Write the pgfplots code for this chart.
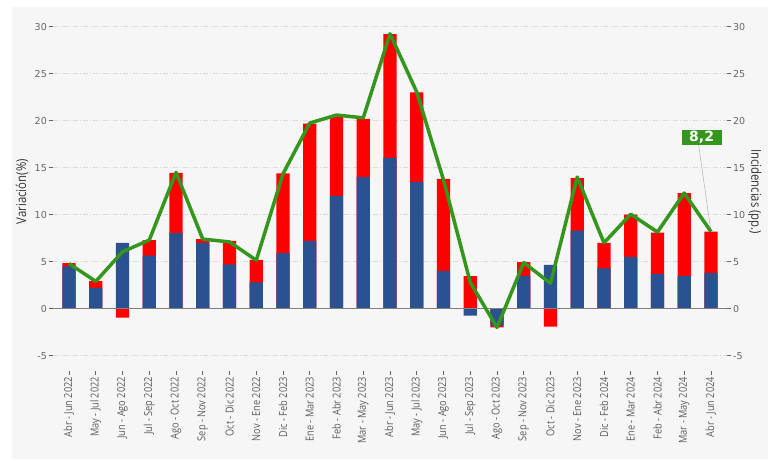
\documentclass[border=0pt]{standalone}
\usepackage{pgfplots}
\usepackage{pgfplotstable}
\pgfplotsset{compat=1.18}
\usepackage{fontspec}
\setmainfont{DejaVu Sans}
\newfontfamily\condfont[FakeStretch=0.84]{Open Sans}
\definecolor{bgpanel}{HTML}{F6F6F6}
\definecolor{barblue}{HTML}{2A5190}
\definecolor{barred}{HTML}{FF0000}
\definecolor{lgreen}{HTML}{34961C}
\definecolor{ticktxt}{HTML}{666666}
\definecolor{gridc}{HTML}{DADADA}

\pgfplotstableread{
i b r l
0 4.5 4.85 4.8
1 2.2 2.95 2.9
2 7.0 -0.95 6.05
3 5.65 7.3 7.3
4 8.05 14.45 14.5
5 7.0 7.4 7.4
6 4.7 7.2 7.1
7 2.8 5.2 5.15
8 5.9 14.4 14.35
9 7.2 19.7 19.75
10 12.0 20.5 20.6
11 14.0 20.2 20.3
12 16.05 29.2 29.25
13 13.5 23.0 23.05
14 4.0 13.8 13.7
15 -0.75 3.45 2.8
16 -1.8 -2.0 -2.0
17 3.5 4.95 4.9
18 4.65 -1.9 2.7
19 8.3 13.9 14.0
20 4.3 7.0 7.0
21 5.5 10.0 10.05
22 3.7 8.1 8.15
23 3.5 12.3 12.3
24 3.8 8.2 8.2
}\data

\begin{document}
\begin{tikzpicture}
\fill[white] (0pt,0pt) rectangle (772pt,461pt);
\fill[bgpanel] (12pt,2pt) rectangle (768pt,454pt);
\begin{axis}[
  at={(53pt,90.3pt)}, anchor=south west,
  scale only axis, width=674pt, height=358.1pt,
  xmin=-0.6, xmax=24.6, ymin=-6.6, ymax=31.5,
  clip=false,
  axis line style={draw=none},
  ymajorgrids, grid style={gridc, line width=0.7pt, dash pattern=on 5pt off 2pt on 1pt off 2pt},
  ytick={-5,0,5,10,15,20,25,30},
  xtick={0,...,24},
  xtick pos=bottom, ytick pos=left,
  tick align=outside, major tick length=4pt,
  tick style={ticktxt, line width=0.7pt},
  /pgf/number format/assume math mode=true,
  yticklabel style={font=\fontsize{9.5}{10}\selectfont, text=ticktxt, inner sep=2pt},
  xticklabel style={font=\condfont\fontsize{11}{11}\selectfont, text=ticktxt!90!black, rotate=90, anchor=east, inner sep=2pt},
  xticklabels={Abr - Jun 2022, May - Jul 2022, Jun - Ago 2022, Jul - Sep 2022, Ago - Oct 2022, Sep - Nov 2022, Oct - Dic 2022, Nov - Ene 2022, Dic - Feb 2023, Ene - Mar 2023, Feb - Abr 2023, Mar - May 2023, Abr - Jun 2023, May - Jul 2023, Jun - Ago 2023, Jul - Sep 2023, Ago - Oct 2023, Sep - Nov 2023, Oct - Dic 2023, Nov - Ene 2023, Dic - Feb 2024, Ene - Mar 2024, Feb - Abr 2024, Mar - May 2024, Abr - Jun 2024},
  ylabel={Variación(\%)},
  ylabel style={at={(axis description cs:-0.046,0.5)}, anchor=center, font=\condfont\fontsize{13.5}{14}\selectfont, text=black!80},
]
\addplot[ybar, bar width=13.3pt, bar shift=0pt, fill=barred, draw=none] table[x=i, y=r] \data;
\addplot[ybar, bar width=13.3pt, bar shift=0pt, fill=barblue, draw=none] table[x=i, y=b] \data;
\draw[gray, line width=1.3pt] (axis cs:-0.6,0) -- (axis cs:24.6,0);
\draw[gray!60, line width=0.5pt] (axis cs:23.54,17.4) -- (axis cs:24,8.2);
\addplot[lgreen, line width=3.5pt, line join=round, mark=none] table[x=i, y=l] \data;
\node[fill=lgreen, text=white, font=\bfseries\fontsize{14}{14}\selectfont, inner sep=0pt, minimum width=40pt, minimum height=15pt] at (axis cs:23.65,18.2) {8,2};
\end{axis}
\begin{axis}[
  at={(53pt,90.3pt)}, anchor=south west,
  scale only axis, width=674pt, height=358.1pt,
  xmin=-0.6, xmax=24.6, ymin=-6.6, ymax=31.5,
  axis line style={draw=none},
  hide x axis,
  ytick={-5,0,5,10,15,20,25,30},
  ytick pos=right, yticklabel pos=right,
  tick align=outside, major tick length=4pt,
  tick style={ticktxt, line width=0.7pt},
  /pgf/number format/assume math mode=true,
  yticklabel style={font=\fontsize{9.5}{10}\selectfont, text=ticktxt, inner sep=2pt},
  ylabel={Incidencias (pp.)},
  ylabel style={at={(axis description cs:1.0415,0.5)}, anchor=center, rotate=180, font=\condfont\fontsize{13.5}{14}\selectfont, text=black!80},
]
\addplot[draw=none, forget plot] coordinates {(0,0)};
\end{axis}
\end{tikzpicture}
\end{document}
